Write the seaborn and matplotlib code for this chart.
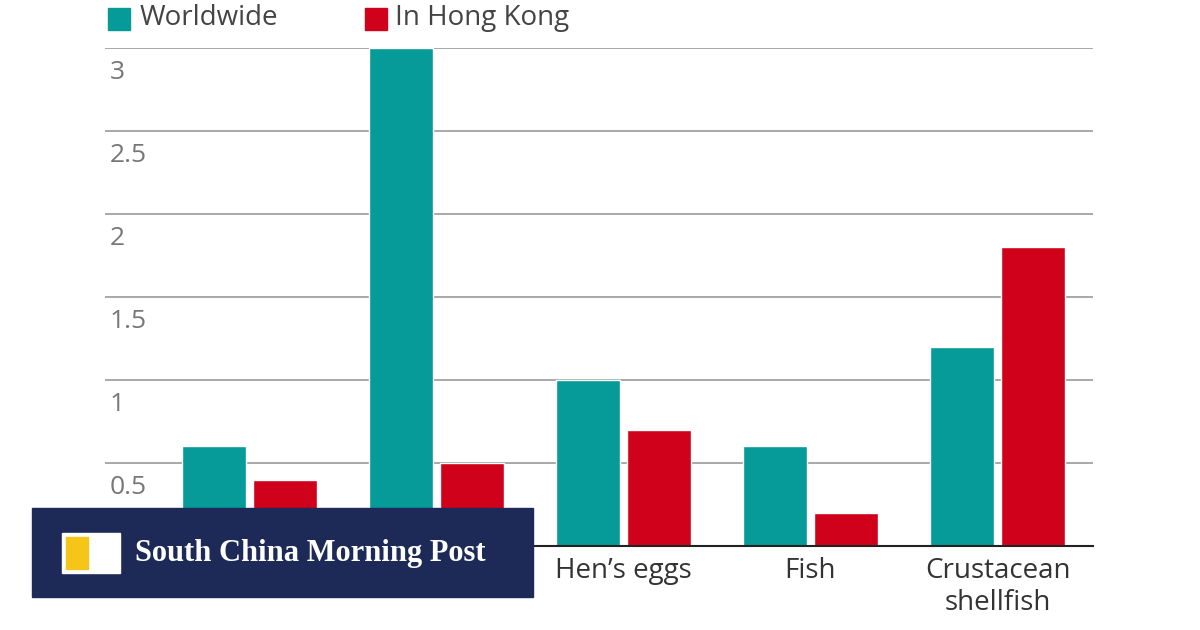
import pandas as pd
import matplotlib.pyplot as plt
import seaborn as sns
from matplotlib.patches import Rectangle

categorias = ["Peanuts", "Cow\u2019s milk", "Hen\u2019s eggs", "Fish", "Crustacean\nshellfish"]
worldwide = [0.6, 3.0, 1.0, 0.6, 1.2]
hong_kong = [0.4, 0.5, 0.7, 0.2, 1.8]
series = ["Worldwide", "In Hong Kong"]
cores = ["#069a98", "#d0021b"]
y_ticks = [0.5, 1, 1.5, 2, 2.5, 3]

df = pd.DataFrame({
    "cat": categorias * 2,
    "val": worldwide + hong_kong,
    "serie": [series[0]] * 5 + [series[1]] * 5,
})

sns.set_theme(style="white")
plt.rcParams['font.family'] = ['Open Sans', 'DejaVu Sans']
fig = plt.figure(figsize=(12, 6.3), dpi=100)
ax = fig.add_axes([105 / 1200, 1 - 546 / 630, 988 / 1200, 498 / 630])

sns.barplot(data=df, x="cat", y="val", hue="serie", palette=cores, width=0.76,
            gap=0.1, saturation=1, ax=ax, legend=False)
ax.set_xlim(-0.77, 4.51)
ax.set_ylim(0, 3.0)
ax.set_xlabel("")
ax.set_ylabel("")
ax.set_yticks([])
for t in y_ticks:
    ax.axhline(t, color="#999999", lw=1.2, zorder=0)
    ax.text(0.005, t - 0.07, f"{t:g}", transform=ax.get_yaxis_transform(),
            ha="left", va="top", fontsize=19, color="#777777")
for s in ["top", "right", "left"]:
    ax.spines[s].set_visible(False)
ax.spines["bottom"].set_color("#222222")
ax.spines["bottom"].set_linewidth(1.5)
ax.tick_params(axis="x", labelsize=20, colors="#333333", length=0, pad=8)
for lbl in ax.get_xticklabels():
    lbl.set_linespacing(1.2)

# legenda manual no topo
fig.patches.append(Rectangle((108 / 1200, 1 - 30 / 630), 22 / 1200, 22 / 630,
                             transform=fig.transFigure, color=cores[0]))
fig.text(140 / 1200, 1 - 18 / 630, series[0], fontsize=20, color="#444444", va="center")
fig.patches.append(Rectangle((365 / 1200, 1 - 30 / 630), 22 / 1200, 22 / 630,
                             transform=fig.transFigure, color=cores[1]))
fig.text(395 / 1200, 1 - 18 / 630, series[1], fontsize=20, color="#444444", va="center")

# logo
fig.patches.append(Rectangle((32 / 1200, 1 - 597 / 630), 501 / 1200, 89 / 630,
                             transform=fig.transFigure, color="#1d2a57", zorder=10))
fig.patches.append(Rectangle((62 / 1200, 1 - 573 / 630), 58 / 1200, 40 / 630,
                             transform=fig.transFigure, color="white", zorder=11))
fig.patches.append(Rectangle((66 / 1200, 1 - 569 / 630), 22 / 1200, 32 / 630,
                             transform=fig.transFigure, color="#f5c518", zorder=12))
fig.text(135 / 1200, 1 - 553 / 630, "South China Morning Post", fontsize=22,
         fontweight="bold", family=["Liberation Serif", "DejaVu Serif"],
         color="white", va="center", zorder=12)

fig.savefig("out.png", dpi=100)
